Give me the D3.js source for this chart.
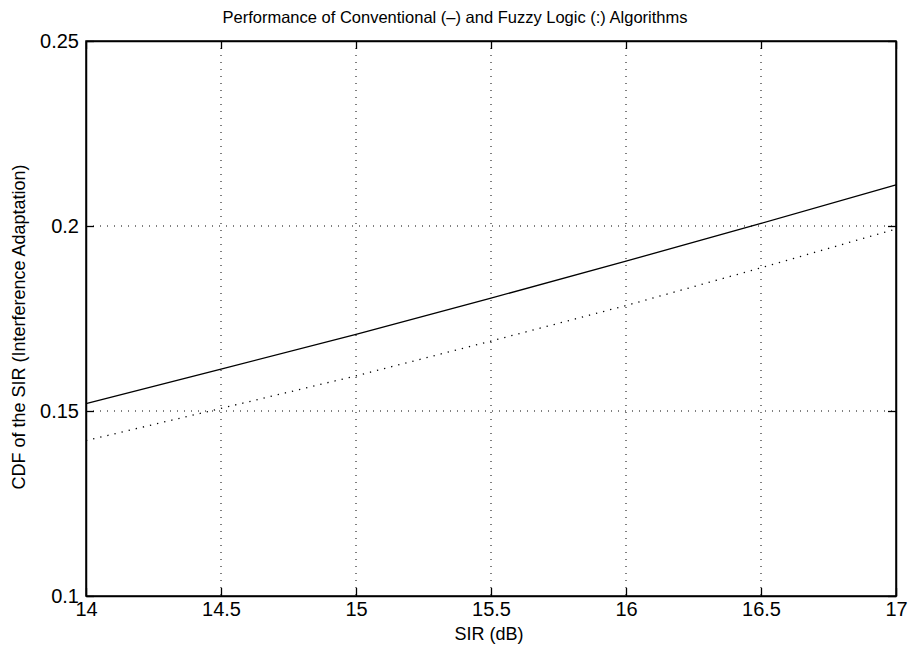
<!DOCTYPE html>
<html><head><meta charset="utf-8">
<script src="https://cdn.jsdelivr.net/npm/d3@7"></script>
<style>body{margin:0;background:#fff}svg{display:block}text{font-family:"Liberation Sans",Arial,Helvetica,sans-serif;fill:#000}</style>
</head><body><svg id="c" width="910" height="647"></svg>
<script>
const sirValues = [14, 14.5, 15, 15.5, 16, 16.5, 17];
const conventional = [0.152, 0.1613, 0.1707, 0.1805, 0.1905, 0.2007, 0.2111];
const fuzzy = [0.142, 0.1507, 0.1595, 0.1689, 0.1785, 0.1887, 0.1992];
const xTicks = [14, 14.5, 15, 15.5, 16, 16.5, 17];
const yTicks = [0.1, 0.15, 0.2, 0.25];

const L = 86, R = 896, T = 41, B = 596;
const svg = d3.select("#c");
const x = d3.scaleLinear().domain([14, 17]).range([L, R]);
const y = d3.scaleLinear().domain([0.1, 0.25]).range([B, T]);

// grid
const g = svg.append("g");
g.selectAll(".gx").data(xTicks.slice(1, -1)).join("line")
  .attr("x1", d => x(d)).attr("x2", d => x(d)).attr("y1", T).attr("y2", B)
  .attr("stroke", "#000").attr("stroke-width", 1).attr("stroke-dasharray", "1,6");
g.selectAll(".gy").data(yTicks.slice(1, -1)).join("line")
  .attr("y1", d => y(d)).attr("y2", d => y(d)).attr("x1", L).attr("x2", R)
  .attr("stroke", "#000").attr("stroke-width", 1).attr("stroke-dasharray", "1,6");

// lines
const line = d3.line().x((d, i) => x(sirValues[i])).y(d => y(d));
svg.append("path").datum(conventional).attr("d", line)
  .attr("fill", "none").attr("stroke", "#000").attr("stroke-width", 1.3);
svg.append("path").datum(fuzzy).attr("d", line)
  .attr("fill", "none").attr("stroke", "#000").attr("stroke-width", 1.3)
  .attr("stroke-dasharray", "1.3,6");

// axes (MATLAB style, inward ticks)
const fmt = d => String(d);
const ax = svg.append("g").attr("transform", `translate(0,${B})`)
  .call(d3.axisBottom(x).tickValues(xTicks).tickFormat(fmt).tickSizeInner(-8).tickSizeOuter(0).tickPadding(6));
const axT = svg.append("g").attr("transform", `translate(0,${T})`)
  .call(d3.axisTop(x).tickValues(xTicks).tickFormat("").tickSizeInner(-8).tickSizeOuter(0));
const ay = svg.append("g").attr("transform", `translate(${L},0)`)
  .call(d3.axisLeft(y).tickValues(yTicks).tickFormat(fmt).tickSizeInner(-8).tickSizeOuter(0).tickPadding(7));
const ayR = svg.append("g").attr("transform", `translate(${R},0)`)
  .call(d3.axisRight(y).tickValues(yTicks).tickFormat("").tickSizeInner(-8).tickSizeOuter(0));
[ax, axT, ay, ayR].forEach(a => {
  a.select(".domain").attr("stroke", "#000").attr("stroke-width", 1.5);
  a.selectAll(".tick line").attr("stroke", "#000").attr("stroke-width", 1.3);
  a.selectAll("text").style("font-size", "20px").style("font-family", '"Liberation Sans",Arial,sans-serif');
});
svg.append("rect").attr("x", L).attr("y", T).attr("width", R - L).attr("height", B - T)
  .attr("fill", "none").attr("stroke", "#000").attr("stroke-width", 1.5);

svg.append("text").attr("x", 455).attr("y", 23).attr("text-anchor", "middle")
  .style("font-size", "16.5px").text("Performance of Conventional (\u2013) and Fuzzy Logic (:) Algorithms");
svg.append("text").attr("x", 489).attr("y", 640).attr("text-anchor", "middle")
  .style("font-size", "18px").text("SIR (dB)");
svg.append("text").attr("transform", "translate(25,327) rotate(-90)").attr("text-anchor", "middle")
  .style("font-size", "18px").text("CDF of the SIR (Interference Adaptation)");
</script></body></html>
